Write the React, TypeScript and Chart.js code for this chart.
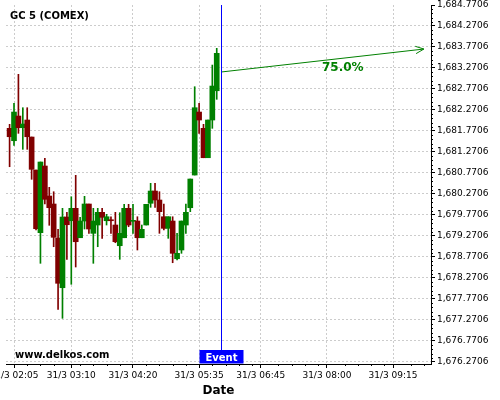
import React, { useEffect, useRef } from 'react';
import { Chart, registerables } from 'chart.js';

Chart.register(...registerables);
Chart.defaults.font.family = "'DejaVu Sans', sans-serif";

// ---- data ----
const TITLE = 'GC 5 (COMEX)';
const WATERMARK = 'www.delkos.com';

const TIMES = [
  '02:00', '02:05', '02:10', '02:15', '02:20', '02:25', '02:30', '02:35', '02:40', '02:45', '02:50', '02:55',
  '03:00', '03:05', '03:10', '03:15', '03:20', '03:25', '03:30', '03:35', '03:40', '03:45', '03:50', '03:55',
  '04:00', '04:05', '04:10', '04:15', '04:20', '04:25', '04:30', '04:35', '04:40', '04:45', '04:50', '04:55',
  '05:00', '05:05', '05:10', '05:15', '05:20', '05:25', '05:30', '05:35', '05:40', '05:45', '05:50', '05:55',
];

const OPEN = [
  1681.834, 1681.539, 1682.127, 1681.849, 1682.032, 1681.627, 1680.841, 1679.349, 1680.937, 1680.222, 1680.032, 1679.222,
  1678.039, 1679.722, 1679.634, 1679.929, 1679.229, 1679.627, 1680.032, 1679.334, 1679.532, 1679.834, 1679.634, 1679.651,
  1679.532, 1679.039, 1679.229, 1679.929, 1679.620, 1679.627, 1679.229, 1679.532, 1680.049, 1680.341, 1680.127, 1679.729,
  1679.453, 1679.627, 1678.729, 1678.937, 1679.532, 1679.944, 1680.722, 1682.222, 1681.834, 1681.134, 1682.032, 1682.729,
];
const HIGH = [
  1681.929, 1682.429, 1683.120, 1682.325, 1682.325, 1681.627, 1680.841, 1681.032, 1681.120, 1680.429, 1680.325, 1679.429,
  1679.929, 1679.834, 1680.206, 1680.715, 1679.715, 1680.215, 1680.032, 1679.929, 1679.929, 1679.929, 1679.787, 1679.729,
  1679.834, 1679.825, 1680.025, 1680.025, 1680.025, 1679.729, 1679.532, 1680.025, 1680.525, 1680.525, 1680.325, 1680.032,
  1679.729, 1679.729, 1679.334, 1679.627, 1680.032, 1680.627, 1682.825, 1682.429, 1681.929, 1682.032, 1683.341, 1683.739,
];
const LOW = [
  1680.920, 1681.429, 1681.715, 1681.334, 1681.334, 1680.620, 1679.413, 1678.620, 1680.032, 1679.525, 1679.015, 1677.525,
  1677.310, 1678.715, 1678.120, 1678.532, 1679.229, 1679.437, 1679.334, 1678.620, 1679.015, 1679.215, 1679.532, 1679.334,
  1679.110, 1678.715, 1679.229, 1679.491, 1679.334, 1678.937, 1679.229, 1679.532, 1679.953, 1679.953, 1679.334, 1679.413,
  1679.215, 1678.634, 1678.699, 1678.858, 1679.334, 1679.849, 1680.722, 1681.715, 1681.134, 1681.134, 1681.834, 1682.525,
];
const CLOSE = [
  1681.634, 1682.222, 1681.849, 1681.937, 1681.634, 1680.858, 1679.444, 1681.032, 1680.144, 1679.944, 1679.239, 1678.144,
  1679.722, 1679.539, 1679.929, 1679.134, 1679.627, 1680.032, 1679.437, 1679.627, 1679.834, 1679.715, 1679.729, 1679.634,
  1679.134, 1679.334, 1679.929, 1679.532, 1679.644, 1679.229, 1679.429, 1680.025, 1680.341, 1680.127, 1679.849, 1679.453,
  1679.729, 1678.858, 1678.858, 1679.627, 1679.834, 1680.627, 1682.325, 1682.032, 1681.134, 1682.032, 1682.841, 1683.620,
];

const X_TICK_LABELS = ['31/3 02:05', '31/3 03:10', '31/3 04:20', '31/3 05:35', '31/3 06:45', '31/3 08:00', '31/3 09:15'];
const Y_TICKS = [
  1676.2706, 1676.7706, 1677.2706, 1677.7706, 1678.2706, 1678.7706, 1679.2706, 1679.7706, 1680.2706,
  1680.7706, 1681.2706, 1681.7706, 1682.2706, 1682.7706, 1683.2706, 1683.7706, 1684.2706, 1684.7706,
];

const EVENT_TIME = '06:00';
const EVENT_LABEL = 'Event';
const ARROW_START = { time: '06:00', value: 1683.175 };
const ARROW_END = { time: '09:50', value: 1683.722 };
const PROB_LABEL = '75.0%';
const PROB_LABEL_AT = { time: '08:18', value: 1683.27 };

const X_MIN = 115.92;
const X_MAX = 598.1;
const Y_MIN = 1676.2226;
const Y_MAX = 1684.7706;

// ---- styles ----
const GREEN = '#008000';
const RED = '#800000';
const GRID = '#cccccc';
const BLUE = '#0000ff';

const toMinutes = (s: string) => {
  const hm = s.split(' ').pop() as string;
  const [h, m] = hm.split(':').map(Number);
  return h * 60 + m;
};

const fmtY = (v: number) =>
  v.toLocaleString('en-US', { minimumFractionDigits: 4, maximumFractionDigits: 4 });

const overlayPlugin = {
  id: 'overlay',
  afterDraw(chart: any) {
    const { ctx, chartArea, scales } = chart;
    const xs = scales.x;
    const ys = scales.y;
    ctx.save();

    // minor ticks on the right axis
    ctx.strokeStyle = '#000';
    ctx.lineWidth = 1;
    ctx.beginPath();
    for (let i = 0; i < Y_TICKS.length - 1; i++) {
      for (let k = 1; k < 5; k++) {
        const v = Y_TICKS[i] + ((Y_TICKS[i + 1] - Y_TICKS[i]) * k) / 5;
        const y = Math.round(ys.getPixelForValue(v)) + 0.5;
        ctx.moveTo(chartArea.right, y);
        ctx.lineTo(chartArea.right + 2, y);
      }
    }
    // minor ticks on the bottom axis (every 15 minutes)
    const majors = X_TICK_LABELS.map(toMinutes);
    for (let m = 125; m < X_MAX; m += 15) {
      if (majors.some((t) => Math.abs(t - m) < 6)) continue;
      const x = Math.round(xs.getPixelForValue(m)) + 0.5;
      ctx.moveTo(x, chartArea.bottom);
      ctx.lineTo(x, chartArea.bottom + 2);
    }
    ctx.stroke();

    // arrow
    const x1 = xs.getPixelForValue(toMinutes(ARROW_START.time));
    const y1 = ys.getPixelForValue(ARROW_START.value);
    const x2 = xs.getPixelForValue(toMinutes(ARROW_END.time));
    const y2 = ys.getPixelForValue(ARROW_END.value);
    ctx.strokeStyle = GREEN;
    ctx.lineWidth = 1;
    ctx.beginPath();
    ctx.moveTo(x1, y1);
    ctx.lineTo(x2, y2);
    const ang = Math.atan2(y2 - y1, x2 - x1);
    const hl = 9;
    const spread = 0.42;
    ctx.moveTo(x2, y2);
    ctx.lineTo(x2 - hl * Math.cos(ang - spread), y2 - hl * Math.sin(ang - spread));
    ctx.moveTo(x2, y2);
    ctx.lineTo(x2 - hl * Math.cos(ang + spread), y2 - hl * Math.sin(ang + spread));
    ctx.stroke();

    ctx.fillStyle = GREEN;
    ctx.font = "bold 12px 'DejaVu Sans'";
    ctx.textAlign = 'center';
    ctx.textBaseline = 'middle';
    ctx.fillText(PROB_LABEL, xs.getPixelForValue(toMinutes(PROB_LABEL_AT.time)), ys.getPixelForValue(PROB_LABEL_AT.value));

    // event line + box
    const ex = Math.round(xs.getPixelForValue(toMinutes(EVENT_TIME))) + 0.5;
    const boxTop = chartArea.bottom - 14;
    ctx.strokeStyle = BLUE;
    ctx.beginPath();
    ctx.moveTo(ex, chartArea.top);
    ctx.lineTo(ex, boxTop);
    ctx.stroke();
    ctx.fillStyle = BLUE;
    ctx.fillRect(ex - 22, boxTop, 44, 13.5);
    ctx.fillStyle = '#ffffff';
    ctx.font = "bold 10px 'DejaVu Sans'";
    ctx.textAlign = 'center';
    ctx.textBaseline = 'alphabetic';
    ctx.fillText(EVENT_LABEL, ex, boxTop + 10.5);

    // title & watermark
    ctx.fillStyle = '#000';
    ctx.textAlign = 'left';
    ctx.font = "bold 10px 'DejaVu Sans'";
    ctx.fillText(TITLE, 10, 19);
    ctx.fillText(WATERMARK, 15, 357.5);

    ctx.restore();
  },
};

export default function App() {
  const ref = useRef<HTMLCanvasElement>(null);

  useEffect(() => {
    const canvas = ref.current;
    if (!canvas) return;
    const times = TIMES.map(toMinutes);
    const colors = OPEN.map((o, i) => (CLOSE[i] >= o ? GREEN : RED));
    const xTickValues = X_TICK_LABELS.map(toMinutes);

    const chart = new Chart(canvas, {
      type: 'bar',
      data: {
        datasets: [
          {
            label: 'body',
            data: times.map((t, i) => ({ x: t, y: [OPEN[i], CLOSE[i]] })) as any,
            backgroundColor: colors,
            borderWidth: 0,
            barThickness: 5,
            minBarLength: 1,
            grouped: false,
          } as any,
          {
            label: 'wick',
            data: times.map((t, i) => ({ x: t, y: [LOW[i], HIGH[i]] })) as any,
            backgroundColor: colors,
            borderWidth: 0,
            barThickness: 1,
            grouped: false,
          } as any,
        ],
      },
      options: {
        animation: false,
        responsive: false,
        events: [],
        layout: { padding: { left: 6, top: 5, right: 0, bottom: 0 } },
        plugins: {
          legend: { display: false },
          tooltip: { enabled: false },
          title: { display: false },
        },
        scales: {
          x: {
            type: 'linear',
            min: X_MIN,
            max: X_MAX,
            offset: false,
            afterBuildTicks: (s: any) => {
              s.ticks = xTickValues.map((v) => ({ value: v }));
            },
            afterFit: (s: any) => {
              s.height = 36;
              s.paddingLeft = 0;
              s.paddingRight = 0;
            },
            ticks: {
              autoSkip: false,
              maxRotation: 0,
              minRotation: 0,
              padding: 2,
              color: '#000',
              font: { size: 9 },
              callback: (_v: any, i: number) => X_TICK_LABELS[i],
            },
            grid: {
              color: GRID,
              offset: false,
              drawTicks: true,
              tickLength: 4,
              tickColor: '#000',
              tickBorderDash: [],
            },
            border: { display: true, color: '#000', dash: [2, 2] },
            title: {
              display: true,
              text: 'Date',
              color: '#000',
              font: { size: 12, weight: 'bold' },
              padding: { top: 0, bottom: 2 },
            },
          } as any,
          y: {
            type: 'linear',
            position: 'right',
            min: Y_MIN,
            max: Y_MAX,
            afterBuildTicks: (s: any) => {
              s.ticks = Y_TICKS.map((v) => ({ value: v }));
            },
            afterFit: (s: any) => {
              s.width = 69;
              s.paddingTop = 0;
              s.paddingBottom = 0;
            },
            ticks: {
              padding: 2,
              color: '#000',
              font: { size: 9 },
              callback: (v: any) => fmtY(Number(v)),
            },
            grid: {
              color: (c: any) => (c.tick && c.tick.value > Y_MAX - 0.01 ? 'rgba(0,0,0,0)' : GRID),
              tickLength: 4,
              tickColor: '#000',
              tickBorderDash: [],
            },
            border: { display: true, color: '#000', dash: [2, 2] },
          } as any,
        },
      },
      plugins: [overlayPlugin],
    });

    return () => chart.destroy();
  }, []);

  return (
    <div style={{ position: 'fixed', left: 0, top: 0, width: 500, height: 400, background: '#fff' }}>
      <canvas ref={ref} width={500} height={400} style={{ display: 'block', width: 500, height: 400 }} />
    </div>
  );
}
